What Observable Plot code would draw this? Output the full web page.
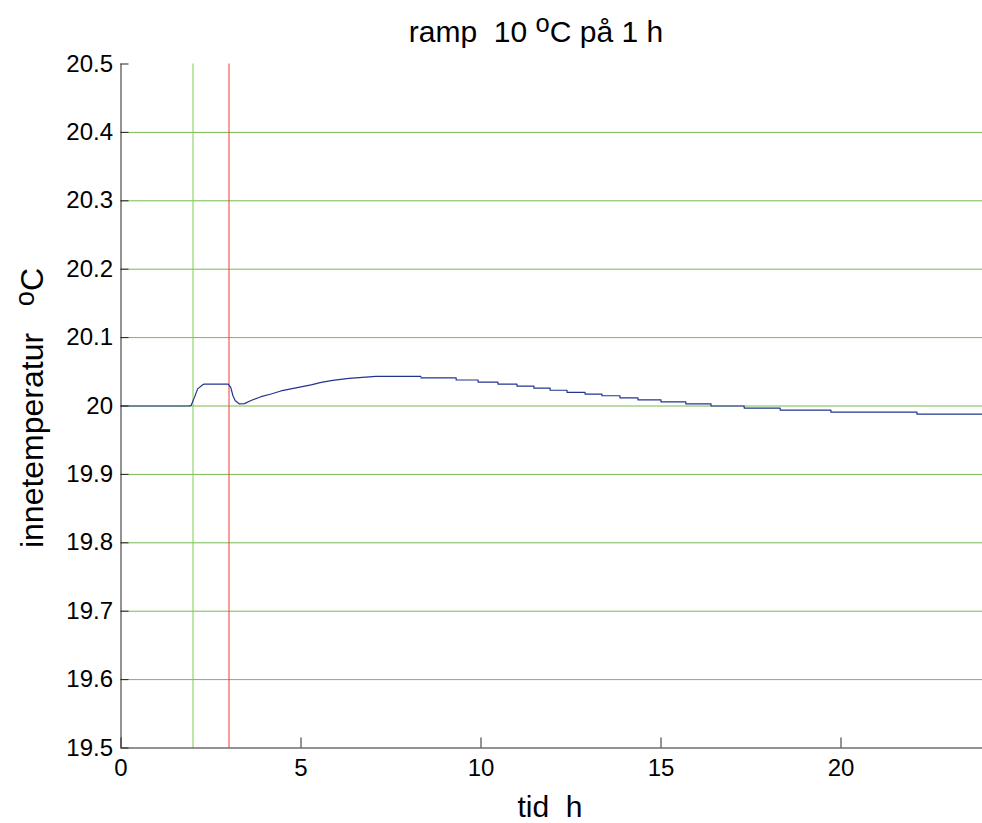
<!DOCTYPE html>
<html>
<head>
<meta charset="utf-8">
<script src="https://cdn.jsdelivr.net/npm/d3@7"></script>
<script src="https://cdn.jsdelivr.net/npm/@observablehq/plot@0.6"></script>
<style>
  html, body { margin: 0; padding: 0; background: #fff; }
  #chart { width: 982px; height: 823px; overflow: hidden; }
</style>
</head>
<body>
<div id="chart"></div>
<script>
// ---- data ----
const titleText = ["ramp  10 ", "o", "C på 1 h"];
const xLabelText = "tid  h";
const yLabelText = ["innetemperatur   ", "o", "C"];

const xTicks = [0, 5, 10, 15, 20];
const yTicks = [19.5, 19.6, 19.7, 19.8, 19.9, 20, 20.1, 20.2, 20.3, 20.4, 20.5];
const yTickLabels = ["19.5", "19.6", "19.7", "19.8", "19.9", "20", "20.1", "20.2", "20.3", "20.4", "20.5"];
const gridLevels = [19.6, 19.7, 19.8, 19.9, 20, 20.1, 20.2, 20.3, 20.4];

const markerTimes = [2, 3];
const markerColors = ["#7ccd4c", "#f03c3c"];

// smooth part of the response (time h, temperature °C)
const rampTime = [0, 1.9, 1.95, 2.04, 2.13, 2.27, 2.31, 2.98, 3.05, 3.11, 3.17, 3.29, 3.43, 3.61, 3.89, 4.17, 4.44, 4.72, 5.0, 5.28, 5.56, 5.88, 6.33, 7.08, 8.33];
const rampTemp = [20.0, 20.0, 20.001, 20.0126, 20.025, 20.031, 20.032, 20.032, 20.027, 20.015, 20.008, 20.003, 20.0035, 20.008, 20.0136, 20.0175, 20.022, 20.025, 20.028, 20.031, 20.0345, 20.0375, 20.0404, 20.0433, 20.0433];

// staircase part (start time of each level, level)
const stepTime = [8.33, 9.31, 9.92, 10.47, 11.0, 11.47, 11.92, 12.39, 12.89, 13.36, 13.86, 14.36, 15.0, 15.69, 16.39, 17.31, 18.31, 19.72, 22.11, 24];
const stepTemp = [20.041, 20.038, 20.035, 20.032, 20.029, 20.026, 20.023, 20.020, 20.0175, 20.015, 20.012, 20.009, 20.006, 20.003, 20.000, 19.997, 19.994, 19.991, 19.988, 19.988];

// ---- build ----
const ramp = rampTime.map((t, i) => ({t, v: rampTemp[i]}));
const steps = stepTime.map((t, i) => ({t, v: stepTemp[i]}));
const markers = markerTimes.map((t, i) => ({t, c: markerColors[i]}));

const W = 982, H = 823;
const X0 = 120.5, X1 = 984.5, Y0 = 747.5, Y1 = 63.5;
const font = "'Liberation Sans', Arial, Helvetica, sans-serif";
const lineColor = "#22348f";
const axisColor = "#262626";

const plot = Plot.plot({
  width: W,
  height: H,
  marginLeft: X0, marginRight: 0, marginTop: Y1, marginBottom: H - Y0,
  style: {fontFamily: font, fontSize: "24px", color: "#000", background: "#fff"},
  x: {domain: [0, 24], range: [X0, X1]},
  y: {domain: [19.5, 20.5], range: [Y0, Y1]},
  marks: [
    Plot.ruleY(gridLevels, {stroke: "#76bb50", strokeWidth: 1}),
    Plot.ruleX(markers, {x: "t", y1: 19.5, y2: 20.5, stroke: "c", strokeWidth: 1}),
    Plot.line(ramp, {x: "t", y: "v", stroke: lineColor, strokeWidth: 1.2, curve: "linear"}),
    Plot.line(steps, {x: "t", y: "v", stroke: lineColor, strokeWidth: 1.2, curve: "step-after"}),
    // spines
    Plot.ruleX([0], {y1: 19.5, y2: 20.5, stroke: axisColor, strokeWidth: 1}),
    Plot.ruleY([19.5], {x1: 0, x2: 24, stroke: axisColor, strokeWidth: 1.2}),
    // inward ticks
    Plot.axisY({ticks: yTicks, tickFormat: (d, i) => yTickLabels[i], tickSize: -8, tickPadding: 16, stroke: axisColor, label: null, fontSize: 24}),
    Plot.axisX({ticks: xTicks, tickFormat: d => String(d), tickSize: -10, tickPadding: 21, stroke: axisColor, label: null, fontSize: 24})
  ]
});

document.getElementById("chart").appendChild(plot);

const svg = d3.select(plot);
function addText(parts, attrs, size, shift) {
  const t = svg.append("text")
    .attr("font-family", font)
    .attr("font-size", size)
    .attr("fill", "#000");
  for (const [k, v] of Object.entries(attrs)) t.attr(k, v);
  parts.forEach((p, i) => {
    const ts = t.append("tspan").text(p);
    if (p === "o" && i === 1) {
      ts.attr("baseline-shift", shift).attr("font-size", size * 0.85);
    }
  });
  return t;
}
addText(titleText, {x: 536, y: 42, "text-anchor": "middle"}, 30, "40%");
addText([xLabelText], {x: 550, y: 817, "text-anchor": "middle"}, 30, "0");
addText(yLabelText, {transform: "translate(43,408) rotate(-90)", "text-anchor": "middle"}, 32, "33%");
</script>
</body>
</html>
